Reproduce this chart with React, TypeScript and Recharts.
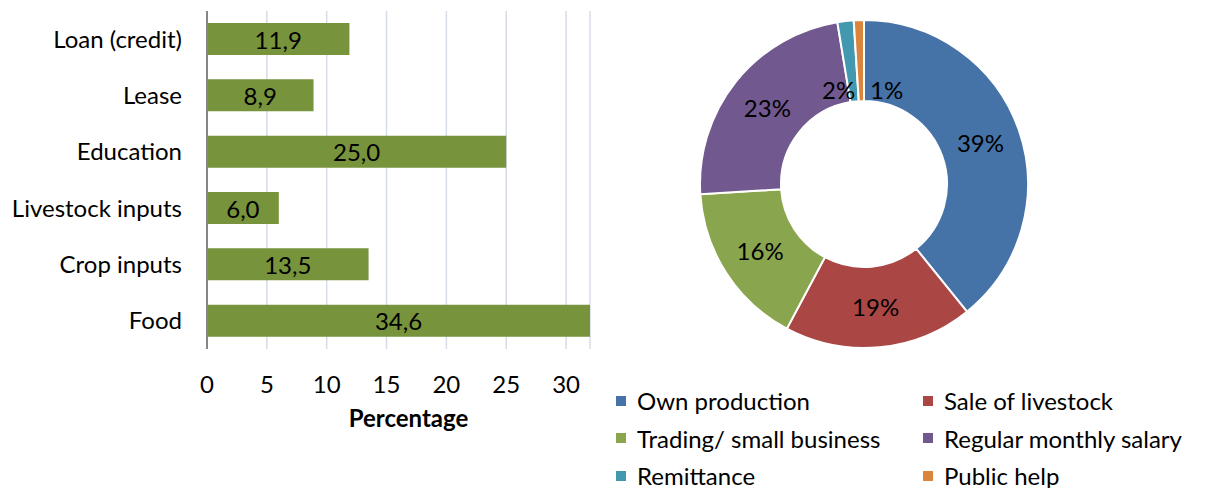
import React from 'react';
import { Bar, BarChart, CartesianGrid, Cell, LabelList, Legend, Pie, PieChart, XAxis, YAxis } from 'recharts';

// expenditure categories (bar chart)
const categories = ['Loan (credit)', 'Lease', 'Education', 'Livestock inputs', 'Crop inputs', 'Food'];
const percentages = [11.9, 8.9, 25.0, 6.0, 13.5, 34.6];
const xTicks = [0, 5, 10, 15, 20, 25, 30];

// income sources (doughnut)
const sources = ['Own production', 'Sale of livestock', 'Trading/ small business', 'Regular monthly salary', 'Remittance', 'Public help'];
const shares = [39.2, 18.6, 16.2, 23.4, 1.6, 1.0];
const sourceColors = ['#4572A7', '#AA4643', '#89A54E', '#71588F', '#4198AF', '#DB843D'];

const barData = categories.map((name, i) => ({ name, value: percentages[i] }));
const pieData = sources.map((name, i) => ({ name, value: shares[i] }));

const FONT = 'Lato, "Open Sans", sans-serif';
const FS = 24;
const BAR_W = 610;
const BAR_H = 488;
const barMargin = { top: 11, right: 20, bottom: 0, left: 0 };
const plotRight = BAR_W - barMargin.right;
const RAD = Math.PI / 180;

function BarValue(props: any) {
    const { x, y, width, height, value } = props;
    // centre the label in the visible (clipped) part of the bar
    const w = Math.min(Number(width), plotRight - Number(x));
    return (
        <text
            x={Number(x) + w / 2}
            y={Number(y) + Number(height) / 2}
            textAnchor="middle"
            dominantBaseline="central"
            fontSize={FS}
            fill="#000"
            fontFamily={FONT}
        >
            {Number(value).toFixed(1).replace('.', ',')}
        </text>
    );
}

function PieLabel(props: any) {
    const { cx, cy, midAngle, innerRadius, outerRadius, percent, index } = props;
    const small = percent < 0.03;
    const r = small ? innerRadius + 12 : (innerRadius + outerRadius) / 2;
    let x = cx + r * Math.cos(-midAngle * RAD);
    const y = cy + r * Math.sin(-midAngle * RAD);
    let anchor: 'middle' | 'start' | 'end' = 'middle';
    if (small) {
        const right = index === sources.length - 1;
        x += right ? 9 : 2;
        anchor = right ? 'start' : 'end';
    }
    return (
        <text x={x} y={y} textAnchor={anchor} dominantBaseline="central" fontSize={FS} fill="#000" fontFamily={FONT}>
            {`${Math.round(percent * 100)}%`}
        </text>
    );
}

// legend keeps the data order (two columns, row by row)
function PieLegend() {
    return (
        <div
            style={{
                display: 'grid',
                gridTemplateColumns: '307px 290px',
                paddingLeft: 9,
                fontFamily: FONT,
                fontSize: FS,
                color: '#000',
            }}
        >
            {sources.map((label, i) => (
                <div key={label} style={{ display: 'flex', alignItems: 'center', height: 37.5, whiteSpace: 'nowrap' }}>
                    <span
                        style={{
                            width: 10,
                            height: 10,
                            background: sourceColors[i],
                            marginRight: 11,
                            display: 'inline-block',
                            flex: 'none',
                        }}
                    />
                    {label}
                </div>
            ))}
        </div>
    );
}

function App() {
    return (
        <div style={{ position: 'absolute', left: 0, top: 0, width: 1207, height: 488, background: '#fff' }}>
            <div style={{ position: 'absolute', left: 0, top: 0 }}>
                <BarChart width={BAR_W} height={BAR_H} data={barData} layout="vertical" margin={barMargin}>
                    <CartesianGrid horizontal={false} stroke="#D6DCE8" strokeWidth={1.5} />
                    <XAxis
                        type="number"
                        domain={[0, 32]}
                        allowDataOverflow
                        ticks={xTicks}
                        axisLine={false}
                        tickLine={false}
                        tickMargin={21}
                        height={139}
                        tick={{ fontSize: FS, fill: '#000', fontFamily: FONT }}
                        label={{
                            value: 'Percentage',
                            position: 'insideTop',
                            offset: 61,
                            dx: 10,
                            fontSize: FS,
                            fontWeight: 'bold',
                            fill: '#000',
                            fontFamily: FONT,
                        }}
                    />
                    <YAxis
                        type="category"
                        dataKey="name"
                        width={207}
                        axisLine={{ stroke: '#868686', strokeWidth: 2 }}
                        tickLine={false}
                        tickMargin={19}
                        tick={{ fontSize: FS, fill: '#000', fontFamily: FONT }}
                    />
                    <Bar dataKey="value" fill="#77933C" barSize={32} isAnimationActive={false}>
                        <LabelList dataKey="value" content={BarValue} />
                    </Bar>
                </BarChart>
            </div>
            <div style={{ position: 'absolute', left: 607, top: 0 }}>
                <PieChart width={600} height={488} margin={{ top: 0, right: 0, bottom: 0, left: 0 }}>
                    <Pie
                        data={pieData}
                        dataKey="value"
                        nameKey="name"
                        cx={257}
                        cy={184}
                        innerRadius={83}
                        outerRadius={164}
                        startAngle={90}
                        endAngle={-270}
                        stroke="#fff"
                        strokeWidth={2}
                        label={PieLabel}
                        labelLine={false}
                        isAnimationActive={false}
                    >
                        {pieData.map((d, i) => (
                            <Cell key={d.name} fill={sourceColors[i]} />
                        ))}
                    </Pie>
                    <Legend content={PieLegend} wrapperStyle={{ left: 0, top: 382, width: 600 }} />
                </PieChart>
            </div>
        </div>
    );
}

export default App;
